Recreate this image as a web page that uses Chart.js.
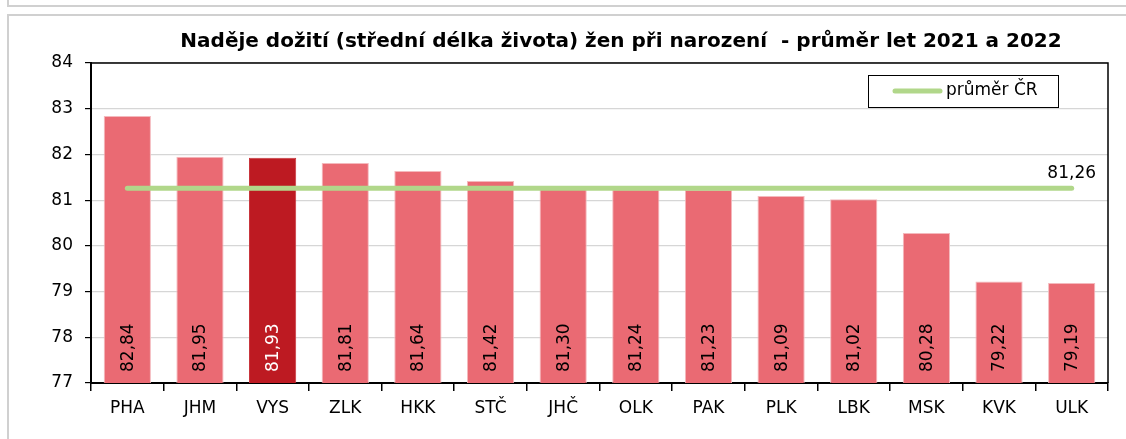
<!DOCTYPE html>
<html>
<head>
<meta charset="utf-8">
<script src="https://cdn.jsdelivr.net/npm/chart.js@4"></script>
<style>
  html, body { margin: 0; padding: 0; background: #fff; }
  body { width: 1126px; height: 439px; position: relative; overflow: hidden; }
  #horni { position: absolute; left: 7px; top: -20px; width: 1140px; height: 23px; border: 2px solid #d0d0d0; }
  #ramec { position: absolute; left: 7px; top: 14px; width: 1140px; height: 430px; border: 2px solid #d0d0d0; }
  #graf { position: absolute; left: 0; top: 0; }
</style>
</head>
<body>
<div id="horni"></div>
<div id="ramec"></div>
<canvas id="graf" width="1126" height="439"></canvas>
<script>
// data z obrázku
var kraje = ['PHA', 'JHM', 'VYS', 'ZLK', 'HKK', 'STČ', 'JHČ', 'OLK', 'PAK', 'PLK', 'LBK', 'MSK', 'KVK', 'ULK'];
var nadeje = [82.84, 81.95, 81.93, 81.81, 81.64, 81.42, 81.30, 81.24, 81.23, 81.09, 81.02, 80.28, 79.22, 79.19];
var prumerCR = 81.26;
var zvyrazneny = 'VYS';
var osaY = { min: 77, max: 84, krok: 1 };
var nadpis = 'Naděje dožití (střední délka života) žen při narození  - průměr let 2021 a 2022';

var PISMO = "'DejaVu Sans', sans-serif";

function carka(v) {
    return v.toFixed(2).replace('.', ',');
}

var barvyBaru = kraje.map(function(k) {
    return k === zvyrazneny ? '#bd1a22' : '#ea6a73';
});
var okrajeBaru = kraje.map(function(k) {
    return k === zvyrazneny ? '#c8363d' : '#f4b9bd';
});

// nadpis, popisky hodnot svisle uvnitř sloupců, rámeček a legenda
var doplnky = {
    id: 'doplnky',
    afterDatasetsDraw: function(chart) {
        var ctx = chart.ctx;
        var area = chart.chartArea;
        ctx.save();

        // nadpis
        ctx.fillStyle = '#000';
        ctx.font = 'bold 20px ' + PISMO;
        ctx.textAlign = 'center';
        ctx.textBaseline = 'middle';
        ctx.fillText(nadpis, 621, 42);

        // hodnoty ve sloupcích
        var meta = chart.getDatasetMeta(0);
        ctx.font = '17px ' + PISMO;
        ctx.textAlign = 'left';
        meta.data.forEach(function(bar, i) {
            ctx.save();
            ctx.translate(bar.x, area.bottom - 11);
            ctx.rotate(-Math.PI / 2);
            ctx.fillStyle = kraje[i] === zvyrazneny ? '#ffffff' : '#000000';
            ctx.fillText(carka(nadeje[i]), 0, 1);
            ctx.restore();
        });

        // popisek průměru nad koncem čáry
        var cara = chart.getDatasetMeta(1);
        var posl = cara.data[cara.data.length - 1];
        ctx.fillStyle = '#000';
        ctx.textAlign = 'center';
        ctx.fillText(carka(prumerCR), posl.x, posl.y - 15);

        // rámeček plochy grafu
        ctx.strokeStyle = '#000';
        ctx.lineWidth = 1.5;
        ctx.beginPath();
        ctx.moveTo(area.left, area.top);
        ctx.lineTo(area.right, area.top);
        ctx.lineTo(area.right, area.bottom);
        ctx.stroke();

        // legenda
        var lx = 868, ly = 75, lw = 190, lh = 32;
        ctx.fillStyle = '#fff';
        ctx.fillRect(lx, ly, lw, lh);
        ctx.lineWidth = 1;
        ctx.strokeStyle = '#000';
        ctx.strokeRect(lx + 0.5, ly + 0.5, lw, lh);
        ctx.strokeStyle = chart.data.datasets[1].borderColor;
        ctx.lineWidth = 5;
        ctx.lineCap = 'round';
        ctx.beginPath();
        ctx.moveTo(895, ly + 16);
        ctx.lineTo(940, ly + 16);
        ctx.stroke();
        ctx.fillStyle = '#000';
        ctx.textAlign = 'left';
        ctx.fillText(chart.data.datasets[1].label, 946, ly + 16);
        ctx.restore();
    }
};

new Chart(document.getElementById('graf'), {
    data: {
        labels: kraje,
        datasets: [
            {
                type: 'bar',
                label: 'naděje dožití',
                data: nadeje,
                backgroundColor: barvyBaru,
                borderColor: okrajeBaru,
                borderWidth: 1,
                barPercentage: 0.65,
                categoryPercentage: 1,
                order: 2
            },
            {
                type: 'line',
                label: 'průměr ČR',
                data: kraje.map(function() { return prumerCR; }),
                borderColor: '#b1d78a',
                borderWidth: 5,
                borderCapStyle: 'round',
                pointRadius: 0,
                fill: false,
                order: 1
            }
        ]
    },
    options: {
        responsive: false,
        animation: false,
        layout: { padding: { left: 0, right: 18, top: 63, bottom: 0 } },
        plugins: {
            legend: { display: false },
            tooltip: { enabled: false },
            title: { display: false }
        },
        scales: {
            x: {
                offset: true,
                grid: {
                    offset: true,
                    drawOnChartArea: false,
                    color: '#000',
                    tickLength: 8,
                    lineWidth: 1.5
                },
                border: { color: '#000', width: 2 },
                ticks: { color: '#000', font: { family: PISMO, size: 17 }, padding: 7, maxRotation: 0 },
                afterFit: function(s) { s.height = 56; }
            },
            y: {
                min: osaY.min,
                max: osaY.max,
                grid: {
                    color: '#d6d6d6',
                    tickColor: '#000',
                    tickLength: 6,
                    lineWidth: 1.2
                },
                border: { color: '#000', width: 2 },
                ticks: { stepSize: osaY.krok, color: '#000', font: { family: PISMO, size: 17 }, padding: 12 },
                afterFit: function(s) { s.width = 91; }
            }
        }
    },
    plugins: [doplnky]
});
</script>
</body>
</html>
